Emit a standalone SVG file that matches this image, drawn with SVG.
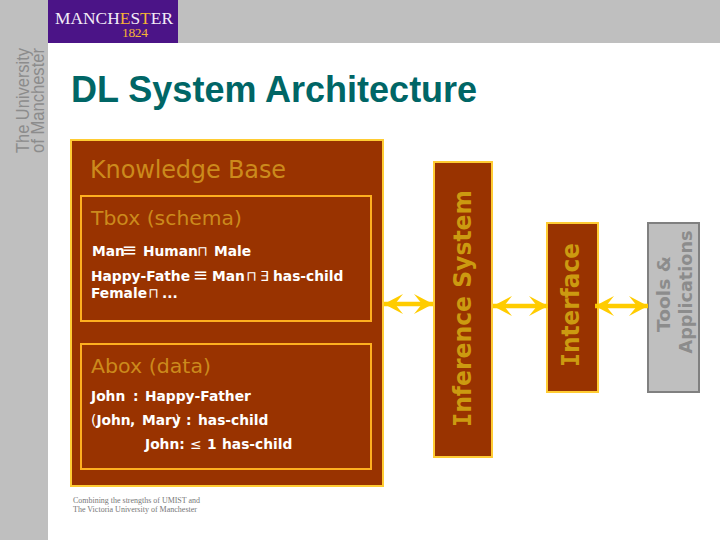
<svg xmlns="http://www.w3.org/2000/svg" width="720" height="540" viewBox="0 0 720 540">
<style>
.v{font-family:"DejaVu Sans",Verdana,sans-serif}
.h{font-size:24px;fill:#cc8a1c}
.s{font-size:20px;fill:#cc8a1c}
.b{font-size:13.8px;font-weight:bold;fill:#fff}
.y{font-weight:normal}
.e{font-weight:normal;font-size:18px}
.r{font-weight:bold;fill:#cc9a10;font-size:24.5px}
.box{fill:#993300;stroke:#ffcc33;stroke-width:2}
.in{fill:none;stroke:#ffb01f;stroke-width:2}
.a{fill:none;stroke:#ffcc00;stroke-width:4.5}
.f{font-family:"Liberation Serif",serif;font-size:8.5px;fill:#777}
</style>
<defs>
<marker id="ah" viewBox="0 0 20 20" refX="19" refY="10" markerWidth="20" markerHeight="20" markerUnits="userSpaceOnUse" orient="auto-start-reverse"><path d="M0 0L19 10L0 20L8 10Z" fill="#ffcc00"/></marker>
</defs>
<rect width="720" height="540" fill="#fff"/>
<rect width="720" height="43" fill="#bfbfbf"/>
<rect width="48" height="540" fill="#bfbfbf"/>
<g id="logo">
<rect x="48" y="0" width="130" height="43" fill="#4b1487"/>
<text x="55" y="24" font-family="Liberation Serif,serif" font-size="17.5px" fill="#f3ecf7" textLength="118" lengthAdjust="spacingAndGlyphs">MANCH<tspan fill="#f5b335">E</tspan>S<tspan fill="#f5b335">T</tspan>ER</text>
<text x="122" y="36.500" font-family="Liberation Serif,serif" font-size="13.5px" fill="#f5b335" textLength="26">1824</text>
</g>
<g id="university" font-family="Liberation Sans,sans-serif" font-size="17.5px" fill="#8c8c8c">
<text transform="translate(28.500 153) rotate(-90)" textLength="105" lengthAdjust="spacingAndGlyphs">The University</text>
<text transform="translate(44 153) rotate(-90)" textLength="105" lengthAdjust="spacingAndGlyphs">of Manchester</text>
</g>
<text id="title" x="71" y="102" font-family="Liberation Sans,sans-serif" font-weight="bold" font-size="36px" fill="#006666">DL System Architecture</text>
<g id="knowledge-base">
<rect class="box" x="71" y="140" width="312" height="346"/>
<text class="v h" x="90" y="178" textLength="196">Knowledge Base</text>
</g>
<g id="tbox">
<rect class="in" x="81" y="196" width="290" height="125"/>
<text class="v s" x="91" y="225" textLength="151" lengthAdjust="spacingAndGlyphs">Tbox (schema)</text>
<text class="v b" x="92" y="255.500">Man<tspan class="e" x="122">≡</tspan><tspan x="143">Human</tspan><tspan class="y" x="197">⊓</tspan><tspan x="214">Male</tspan></text>
<text class="v b" x="91" y="281">Happy-Fathe<tspan class="e" x="193">≡</tspan><tspan x="212">Man</tspan><tspan class="y" x="246">⊓</tspan><tspan class="y" x="260">∃</tspan><tspan x="273">has-child</tspan></text>
<text class="v b" x="91" y="298">Female<tspan class="y" x="148">⊓</tspan><tspan x="162">...</tspan></text>
</g>
<g id="abox">
<rect class="in" x="81" y="344" width="290" height="125"/>
<text class="v s" x="91" y="373" textLength="120" lengthAdjust="spacingAndGlyphs">Abox (data)</text>
<text class="v b" x="91" y="401">John<tspan x="133">:</tspan><tspan x="145">Happy-Father</tspan></text>
<text class="v b" x="91" y="425"><tspan class="y">(</tspan>John<tspan x="130">,</tspan><tspan x="142">Mary</tspan><tspan class="y" x="175">)</tspan><tspan x="186">:</tspan><tspan x="198">has-child</tspan></text>
<text class="v b" x="145" y="449">John:<tspan class="y" x="190">≤</tspan><tspan x="207">1</tspan><tspan x="222">has-child</tspan></text>
</g>
<text id="footer" class="f"><tspan x="73" y="503" textLength="127" lengthAdjust="spacingAndGlyphs">Combining the strengths of UMIST and</tspan><tspan x="73" y="512" textLength="124" lengthAdjust="spacingAndGlyphs">The Victoria University of Manchester</tspan></text>
<g id="inference-system">
<rect class="box" x="434" y="162" width="58" height="295"/>
<text class="v r" transform="translate(471 427) rotate(-90)" textLength="237" lengthAdjust="spacingAndGlyphs"><tspan font-family="DejaVu Sans Mono">I</tspan>nference System</text>
</g>
<g id="interface">
<rect class="box" x="547" y="223" width="51" height="169"/>
<text class="v r" transform="translate(579 367) rotate(-90)" textLength="124" lengthAdjust="spacingAndGlyphs"><tspan font-family="DejaVu Sans Mono">I</tspan>nterface</text>
</g>
<g id="tools">
<rect x="648" y="223" width="51" height="169" fill="#bfbfbf" stroke="#808080" stroke-width="2"/>
<g font-family="DejaVu Sans,sans-serif" font-weight="bold" font-size="17.500px" fill="#8c8c8c" text-anchor="middle">
<text transform="translate(670 294) rotate(-90)" textLength="76" lengthAdjust="spacingAndGlyphs">Tools &amp;</text>
<text transform="translate(692 292) rotate(-90)" textLength="123" lengthAdjust="spacingAndGlyphs">Applications</text>
</g>
</g>
<g id="connectors">
<line class="a" x1="384" y1="304" x2="433" y2="304" marker-start="url(#ah)" marker-end="url(#ah)"/>
<line class="a" x1="493" y1="306" x2="548" y2="306" marker-start="url(#ah)" marker-end="url(#ah)"/>
<line class="a" x1="595" y1="306" x2="648" y2="306" marker-start="url(#ah)" marker-end="url(#ah)"/>
</g>
</svg>
